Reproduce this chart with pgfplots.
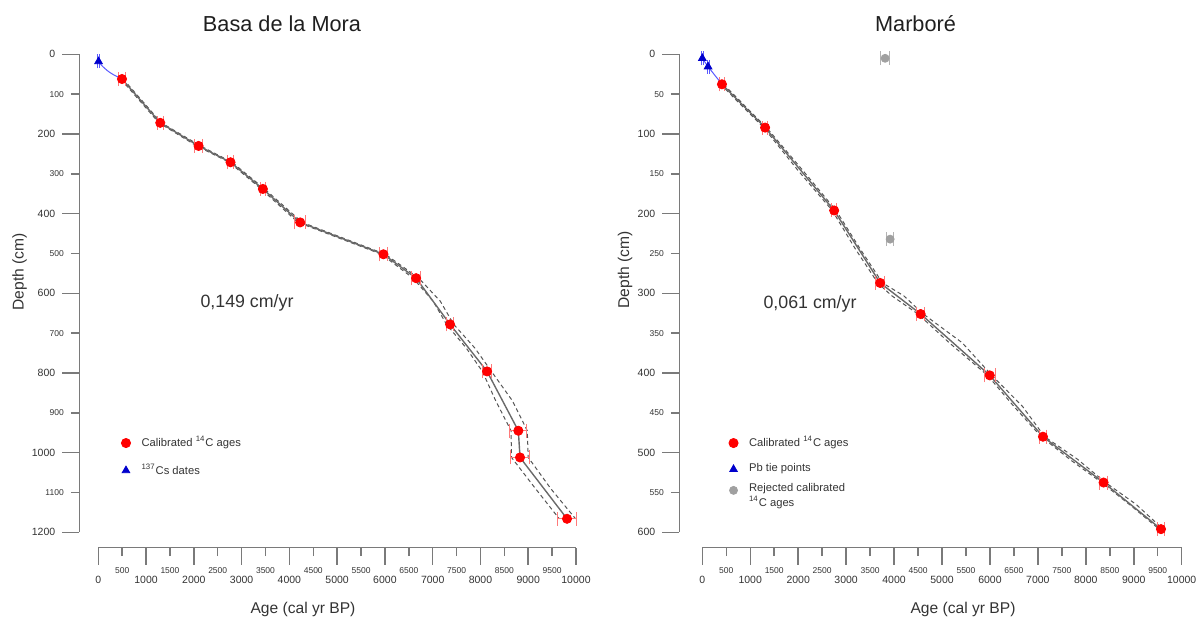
\documentclass[border=0pt]{standalone}
\usepackage{fontspec}
\setmainfont{Liberation Sans}
\usepackage{pgfplots}
\pgfplotsset{compat=1.18}

\definecolor{axisgray}{HTML}{7A7A7A}
\definecolor{txtgray}{HTML}{333333}
\definecolor{ptred}{HTML}{FF0000}
\definecolor{errred}{HTML}{FF7A7A}
\definecolor{ptblue}{HTML}{0000CC}
\definecolor{lnblue}{HTML}{5A5AFF}
\definecolor{modgray}{HTML}{6A6A6A}
\definecolor{dashgray}{HTML}{555555}
\definecolor{rejgray}{HTML}{A0A0A0}

\pgfplotsset{
 rstyle/.style={
  scale only axis,
  axis x line*=bottom, axis y line*=left,
  y dir=reverse,
  xmin=0, xmax=10000,
  clip=false,
  scaled x ticks=false, scaled y ticks=false,
  /pgf/number format/assume math mode=true,
  /pgf/number format/1000 sep={},
  axis line style={axisgray, line width=0.75pt, -},
  tick style={axisgray, line width=0.75pt},
  tick align=outside,
  major tick length=8.5pt,
  xtick={0,1000,...,10000},
  extra x ticks={500,1500,...,9500},
  xticklabel style={font=\fontsize{5.25}{6}\selectfont, text=txtgray, yshift=-2pt},
  yticklabel style={font=\fontsize{5.25}{6}\selectfont, text=txtgray},
  extra x tick style={major tick length=4.25pt,
     xticklabel style={font=\fontsize{4.25}{5}\selectfont}},
  extra y tick style={major tick length=4.25pt,
     yticklabel style={font=\fontsize{4.25}{5}\selectfont}},
  legend image code/.code={\draw[##1] plot coordinates {(0pt,0pt)};},
  legend cell align=left,
  legend style={draw=none, fill=none, inner sep=0pt, anchor=north west,
     font=\fontsize{5.6}{6.2}\selectfont, text=txtgray, row sep=3pt,
     cells={anchor=west},
     /tikz/every odd column/.style={column sep=3.5pt}},
 },
 redpts/.style={only marks, mark=*, mark size=2.3pt, color=ptred, forget plot,
   error bars/.cd, x dir=both, x explicit, error mark=|,
   error bar style={errred, line width=0.5pt},
   error mark options={errred, mark size=3.5pt, line width=0.5pt}},
 bluepts/.style={only marks, mark=triangle*, mark size=2.2pt, color=ptblue, forget plot,
   error bars/.cd, x dir=both, x explicit, error mark=|,
   error bar style={lnblue, line width=0.5pt},
   error mark options={lnblue, mark size=3.5pt, line width=0.5pt}},
 graypts/.style={only marks, mark=*, mark size=2pt, color=rejgray, forget plot,
   error bars/.cd, x dir=both, x explicit, error mark=|,
   error bar style={rejgray!80, line width=0.5pt},
   error mark options={rejgray!80, mark size=3.5pt, line width=0.5pt}},
 modline/.style={modgray, line width=0.7pt, forget plot, no marks},
 dashline/.style={dashgray, line width=0.5pt, dash pattern=on 2pt off 1.5pt, forget plot, no marks},
 blueline/.style={lnblue, line width=0.5pt, forget plot, no marks},
}

\begin{document}
\begin{tikzpicture}
\useasboundingbox (0pt,0pt) rectangle (601.5pt,-308.5pt);

% ---------------- Basa de la Mora ----------------
\begin{axis}[rstyle,
  at={(49.15pt,-266.15pt)}, anchor=south west,
  width=238.85pt, height=239pt,
  ymin=0, ymax=1200,
  axis x line shift=7.7pt, axis y line shift=9.5pt,
  ytick={0,200,...,1200},
  extra y ticks={100,300,...,1100},
  legend style={at={(axis cs:475,948)}},
]
\addplot[dashline] table[x=a,y=d] {
a d
470 62
1270 172
2060 230
2740 271
3410 338
4180 422
5930 502
6590 562
7010 620
7290 678
7700 737
8040 796
8320 870
8640 945
8650 1012
9150 1090
9650 1166
};
\addplot[dashline] table[x=a,y=d] {
a d
520 62
1320 172
2140 230
2800 271
3480 338
4270 422
6010 502
6710 562
7160 620
7440 678
7880 737
8230 796
8670 870
8980 945
9000 1012
9470 1090
9990 1166
};
\addplot[modline] table[x=a,y=d] {
a d
496 62
1297 172
2099 230
2768 271
3445 338
4226 422
5969 502
6653 562
7364 678
8138 796
8793 945
8828 1012
9812 1166
};
\addplot[blueline, smooth] table[x=a,y=d] {
a d
5 18
80 29
180 40
300 50
496 62
};
\addplot[bluepts] table[x=a,y=d,x error=e] {
a d e
5 18 12
};
\addplot[redpts] table[x=a,y=d,x error=e] {
a d e
496 62 65
1297 172 60
2099 230 85
2768 271 60
3445 338 60
4226 422 120
5969 502 85
6653 562 100
7364 678 77
8138 796 95
8793 945 175
8828 1012 190
9812 1166 190
};
\node[font=\fontsize{8.9}{10}\selectfont, text=txtgray] at (axis cs:3113,624) {0,149 cm/yr};
\addlegendimage{only marks, mark=*, mark size=2.3pt, color=ptred}
\addlegendentry{Calibrated \textsuperscript{14}C ages}
\addlegendimage{only marks, mark=triangle*, mark size=2.2pt, color=ptblue}
\addlegendentry{\textsuperscript{137}Cs dates}
\end{axis}

% ---------------- Marbore ----------------
\begin{axis}[rstyle,
  at={(351.15pt,-266.15pt)}, anchor=south west,
  width=239.7pt, height=239pt,
  ymin=0, ymax=600,
  axis x line shift=7.7pt, axis y line shift=11.5pt,
  ytick={0,100,...,600},
  extra y ticks={50,150,...,550},
  legend style={at={(axis cs:547,474)}},
]
\addplot[dashline] table[x=a,y=d] {
a d
380 37.6
1280 92
2000 146
2710 196
3200 245
3660 287
3950 303
4500 326
5150 362
5950 403
6500 442
7070 480
7700 510
8330 537.5
8950 567
9530 596
};
\addplot[dashline] table[x=a,y=d] {
a d
440 37.6
1340 92
2100 146
2790 196
3300 245
3760 287
4200 303
4610 326
5420 362
6040 403
6680 442
7140 480
7820 508
8410 537.5
9050 565
9610 596
};
\addplot[modline] table[x=a,y=d] {
a d
410 37.6
1310 92
2750 196
3710 287
4555 326
5996 403
7106 480
8370 537.5
9568 596
};
\addplot[blueline] table[x=a,y=d] {
a d
0 5
120 15.5
410 37.6
};
\addplot[graypts] table[x=a,y=d,x error=e] {
a d e
3813 5 100
3918 232 70
};
\addplot[bluepts] table[x=a,y=d,x error=e] {
a d e
0 5 20
120 15.5 20
};
\addplot[redpts] table[x=a,y=d,x error=e] {
a d e
410 37.6 60
1310 92 60
2750 196 50
3710 287 90
4555 326 90
5996 403 110
7106 480 80
8370 537.5 80
9568 596 80
};
\node[font=\fontsize{8.9}{10}\selectfont, text=txtgray] at (axis cs:2247,313) {0,061 cm/yr};
\addlegendimage{only marks, mark=*, mark size=2.3pt, color=ptred}
\addlegendentry{Calibrated \textsuperscript{14}C ages}
\addlegendimage{only marks, mark=triangle*, mark size=2.2pt, color=ptblue}
\addlegendentry{Pb tie points}
\addlegendimage{only marks, mark=*, mark size=2pt, color=rejgray}
\addlegendentry{\smash{\raisebox{-8.6pt}{\begin{tabular}[b]{@{}l@{}}Rejected calibrated\\\textsuperscript{14}C ages\end{tabular}}}}
\end{axis}

% titles and axis labels
\node[anchor=base, font=\fontsize{10.85}{12}\selectfont, text=txtgray!60!black] at (141pt,-15.5pt) {Basa de la Mora};
\node[anchor=base, font=\fontsize{10.85}{12}\selectfont, text=txtgray!60!black] at (457.75pt,-15.5pt) {Marboré};
\node[font=\fontsize{7.8}{9}\selectfont, text=txtgray] at (151.5pt,-304.5pt) {Age (cal yr BP)};
\node[font=\fontsize{7.8}{9}\selectfont, text=txtgray] at (481.5pt,-304.5pt) {Age (cal yr BP)};
\node[rotate=90, font=\fontsize{7.8}{9}\selectfont, text=txtgray] at (9.75pt,-136pt) {Depth (cm)};
\node[rotate=90, font=\fontsize{7.8}{9}\selectfont, text=txtgray] at (312.5pt,-135pt) {Depth (cm)};
\end{tikzpicture}
\end{document}
